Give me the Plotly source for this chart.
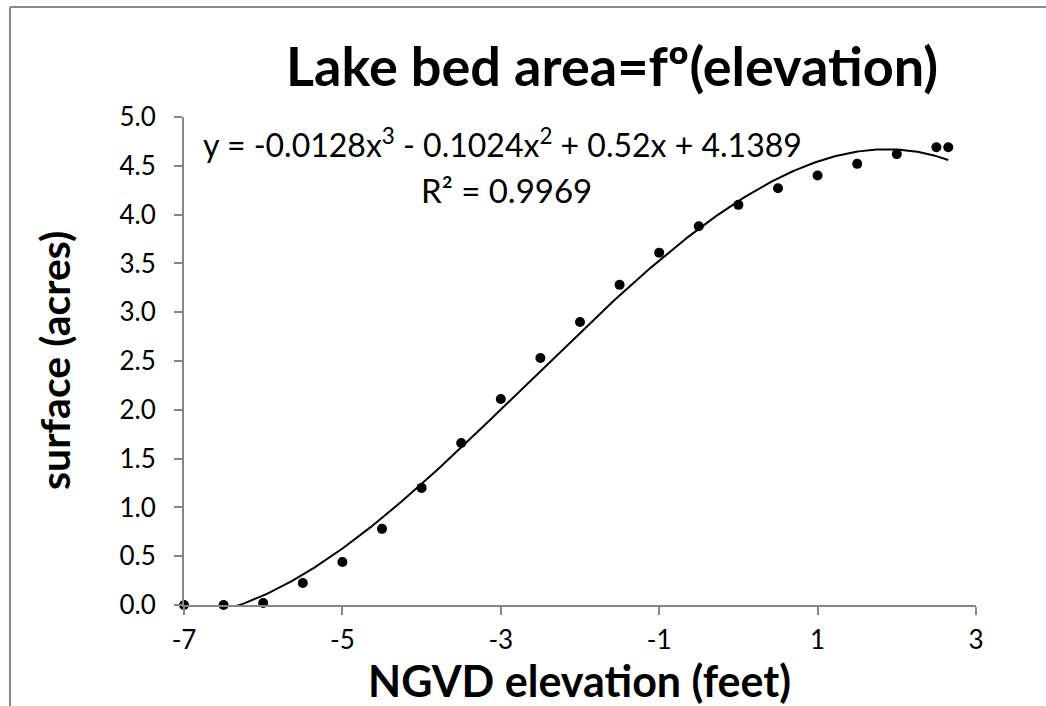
import numpy as np
import plotly.graph_objects as go

# Data
elevation = [-7, -6.5, -6, -5.5, -5, -4.5, -4, -3.5, -3, -2.5, -2, -1.5, -1, -0.5,
             0, 0.5, 1, 1.5, 2, 2.5, 2.65]
surface = [0.0, 0.0, 0.02, 0.225, 0.44, 0.78, 1.20, 1.66, 2.11, 2.53, 2.90, 3.28, 3.61, 3.88,
           4.10, 4.27, 4.40, 4.52, 4.62, 4.69, 4.69]

# Polynomial trendline coefficients (as shown in the chart's equation)
trend_coefs = [-0.0128, -0.1024, 0.52, 4.1389]
equation_text = "y = -0.0128x<sup>3</sup> - 0.1024x<sup>2</sup> + 0.52x + 4.1389"
r2_text = "R² = 0.9969"

x_ticks = [-7, -5, -3, -1, 1, 3]
y_ticks = [0.0, 0.5, 1.0, 1.5, 2.0, 2.5, 3.0, 3.5, 4.0, 4.5, 5.0]

FONT = "Lato"
AXIS_COLOR = "#868686"

xs = np.linspace(min(elevation), max(elevation), 300)
ys = np.polyval(trend_coefs, xs)

fig = go.Figure()
fig.add_trace(go.Scatter(x=xs, y=ys, mode="lines",
                         line=dict(color="black", width=2), hoverinfo="skip",
                         showlegend=False))
fig.add_trace(go.Scatter(x=elevation, y=surface, mode="markers",
                         marker=dict(color="black", size=10),
                         cliponaxis=False, showlegend=False))

W, H = 1046, 706
L, R, T, B = 184, 70, 117, 101
pw, ph = W - L - R, H - T - B

def px_x(p):
    return (p - L) / pw

def px_y(p):
    return (H - B - p) / ph

fig.update_layout(
    width=W, height=H, autosize=False,
    margin=dict(l=L, r=R, t=T, b=B),
    paper_bgcolor="white", plot_bgcolor="white",
    font=dict(family=FONT, color="black", size=26),
    xaxis=dict(range=[-7, 3], tickvals=x_ticks, ticktext=[str(v) for v in x_ticks],
               showgrid=False, zeroline=False, showline=True, linecolor=AXIS_COLOR,
               linewidth=2, ticks="outside", ticklen=8, tickwidth=2, tickcolor=AXIS_COLOR,
               tickfont=dict(size=26, family=FONT), ticklabelstandoff=3),
    yaxis=dict(range=[0, 5], tickvals=y_ticks, ticktext=[f"{v:.1f}" for v in y_ticks],
               showgrid=False, zeroline=False, showline=True, linecolor=AXIS_COLOR,
               linewidth=2, ticks="outside", ticklen=8, tickwidth=2, tickcolor=AXIS_COLOR,
               tickfont=dict(size=26, family=FONT), ticklabelstandoff=13),
    shapes=[
        dict(type="line", xref="paper", yref="paper",
             x0=px_x(10), x1=px_x(W + 5), y0=px_y(7), y1=px_y(7),
             line=dict(color="#8a8a8a", width=2)),
        dict(type="line", xref="paper", yref="paper",
             x0=px_x(10), x1=px_x(10), y0=px_y(7), y1=px_y(H + 5),
             line=dict(color="#8a8a8a", width=2)),
    ],
    annotations=[
        dict(text="<b>Lake bed area=fº(elevation)</b>", xref="paper", yref="paper",
             x=px_x(612), y=px_y(66), xanchor="center", yanchor="middle",
             showarrow=False, font=dict(size=54, family=FONT)),
        dict(text=equation_text, xref="paper", yref="paper",
             x=px_x(502), y=px_y(143), xanchor="center", yanchor="middle",
             showarrow=False, font=dict(size=32, family=FONT)),
        dict(text=r2_text, xref="paper", yref="paper",
             x=px_x(506), y=px_y(190), xanchor="center", yanchor="middle",
             showarrow=False, font=dict(size=33, family=FONT)),
        dict(text="<b>NGVD elevation (feet)</b>", xref="paper", yref="paper",
             x=px_x(579), y=px_y(680), xanchor="center", yanchor="middle",
             showarrow=False, font=dict(size=43, family=FONT)),
        dict(text="<b>surface (acres)</b>", xref="paper", yref="paper",
             x=px_x(54), y=px_y(361), xanchor="center", yanchor="middle",
             textangle=-90, showarrow=False, font=dict(size=41, family=FONT)),
    ],
)

fig.write_html("out.html")
